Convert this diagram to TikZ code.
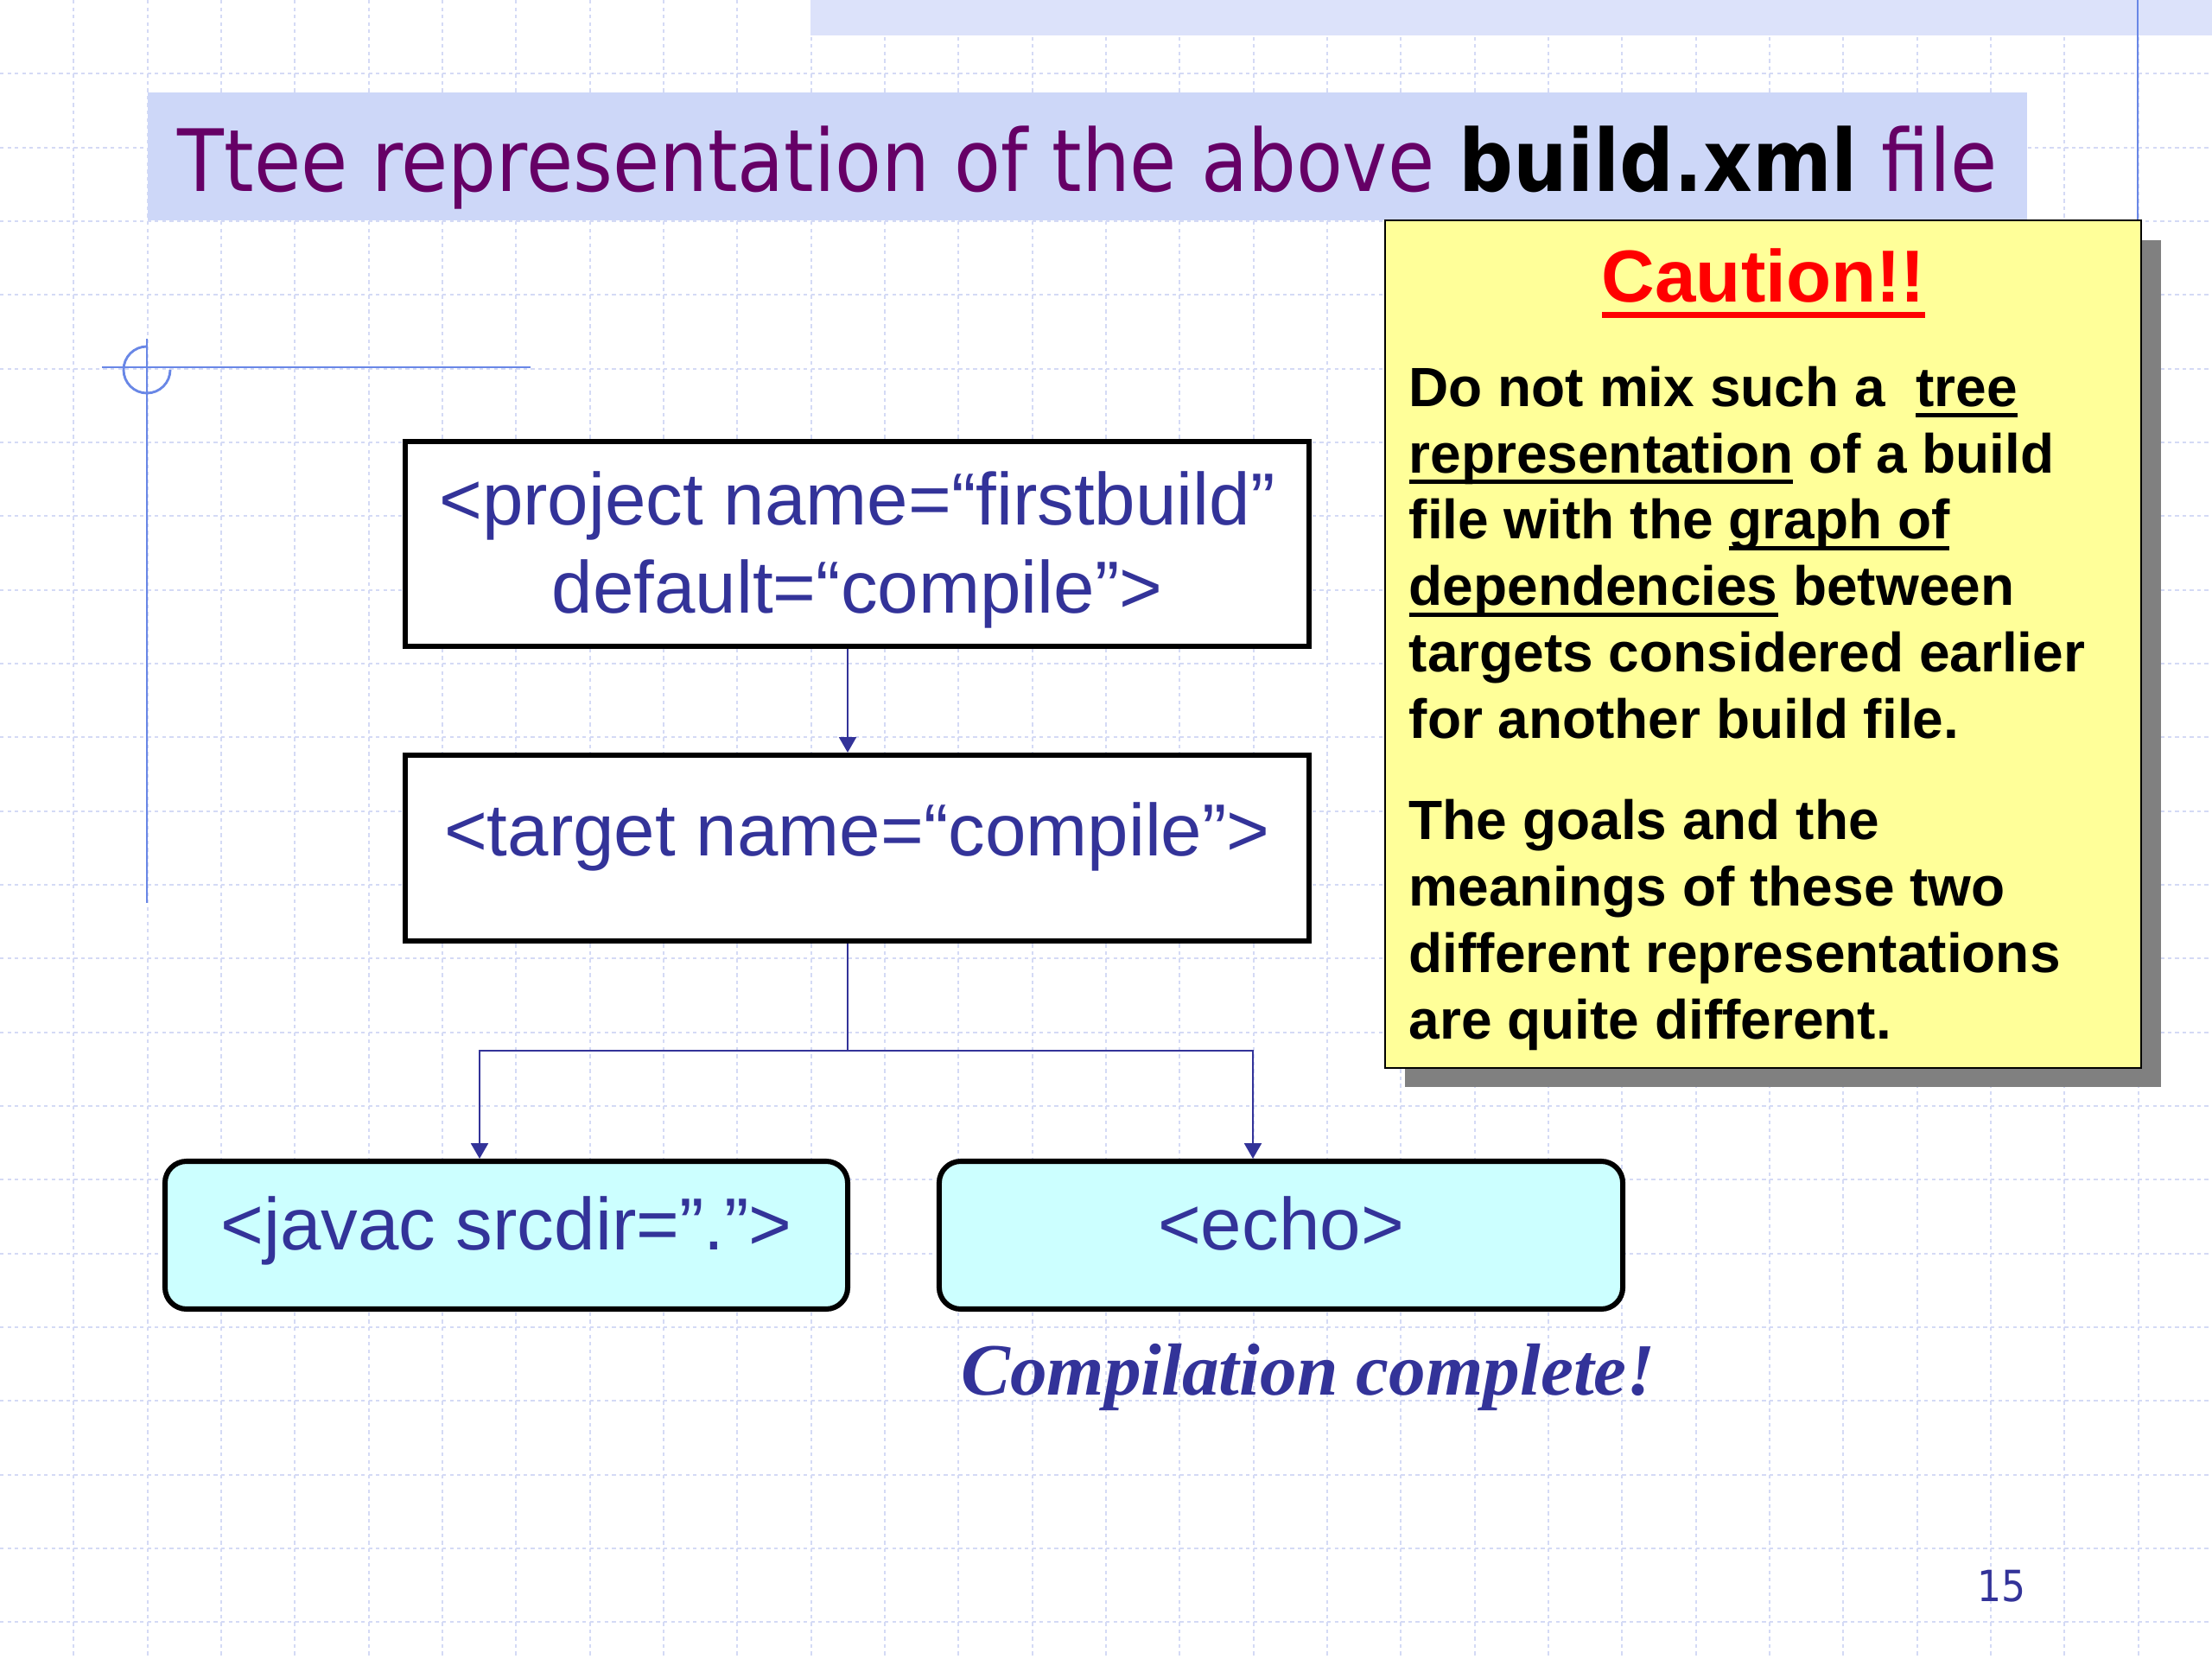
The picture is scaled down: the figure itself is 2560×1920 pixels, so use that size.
\documentclass[tikz,border=0pt]{standalone}
\usepackage{fontspec}
\setmainfont{Liberation Sans}
\newfontfamily\tahoma[FakeStretch=0.885]{DejaVu Sans}
\newfontfamily\serifbi{Liberation Serif}
\usetikzlibrary{arrows.meta}
\definecolor{xmlblue}{RGB}{51,51,153}
\definecolor{titlepurple}{RGB}{102,0,102}
\definecolor{bandblue}{RGB}{205,215,248}
\definecolor{gridlav}{RGB}{212,218,245}
\definecolor{decoblue}{RGB}{105,135,230}
\definecolor{cautionyellow}{RGB}{255,255,153}
\definecolor{cyanfill}{RGB}{204,255,255}
\definecolor{topband}{RGB}{220,226,250}
\definecolor{shadowgray}{RGB}{128,128,128}
\newcommand\myul[3]{\setbox0=\hbox{#3}\rlap{\rule[#1]{\wd0}{#2}}\box0\relax}
\newcommand\boxtext[2]{\raisebox{#1}[0pt][0pt]{\begin{tabular}[t]{@{}c@{}}#2\end{tabular}}}
\begin{document}
\begin{tikzpicture}[x=0.28125pt,y=-0.28125pt,
  gridline/.style={draw=gridlav,line width=0.6pt,dash pattern=on 1.2pt off 1.2pt},
  decoline/.style={draw=decoblue,line width=0.8pt},
  xmlbox/.style={draw=black,line width=1.7pt,fill=white,text=xmlblue,
    font=\fontsize{24}{28.8}\selectfont,inner sep=0pt},
  leafbox/.style={draw=black,line width=1.7pt,fill=cyanfill,rounded corners=7pt,
    text=xmlblue,font=\fontsize{24}{28.8}\selectfont,inner sep=0pt},
  conn/.style={draw=xmlblue,line width=0.6pt},
  tip/.style={-{Triangle[width=5.6pt,length=5pt]}}]
\useasboundingbox (0,0) rectangle (2560,1920);
\fill[white] (0,0) rectangle (2560,1920);
% background grid
\foreach \i in {1,...,29} \draw[gridline] (\i*85.333,0) -- (\i*85.333,1920);
\foreach \j in {1,...,22} \draw[gridline] (0,\j*85.333) -- (2560,\j*85.333);
% top band and decorations
\fill[topband] (938,0) rectangle (2560,41);
\draw[decoline] (2474,0) -- (2474,255);
\draw[decoline] (118,425) -- (614,425);
\draw[decoline] (170,392) -- (170,1045);
\draw[decoline] (170,401) arc[start angle=270,end angle=0,radius=27];
% title
\fill[bandblue] (171,107) rectangle (2346,255);
\node[anchor=base west,inner sep=0pt,text=titlepurple,font=\tahoma\fontsize{28}{34}\selectfont]
  (title) at (205,222) {Ttee representation of the above \textcolor{black}{\bfseries build.xml} file};
% tree boxes
\node[xmlbox,minimum width=294.2pt,minimum height=66.7pt] (b1) at (992,629.5)
  {\boxtext{6.3pt}{<project name=“firstbuild”\\default=“compile”>}};
\node[xmlbox,minimum width=294.2pt,minimum height=60.5pt] (b2) at (992,981.5)
  {\boxtext{-2.5pt}{<target name=“compile”>}};
\node[leafbox,minimum width=222.2pt,minimum height=48.1pt] (b3) at (586,1429.5)
  {\boxtext{-4.9pt}{<javac srcdir=”.”>}};
\node[leafbox,minimum width=222.5pt,minimum height=48.1pt] (b4) at (1482.5,1429.5)
  {\boxtext{-4.9pt}{<echo>}};
% connectors
\coordinate (cx) at (981,1216);
\coordinate (jl) at (555,1216);
\coordinate (jr) at (1450,1216);
\draw[conn,tip] (b1.south -| cx) -- (b2.north -| cx);
\draw[conn] (b2.south -| cx) -- (cx);
\draw[conn,tip] (cx) -- (jl) -- (b3.north -| jl);
\draw[conn,tip] (cx) -- (jr) -- (b4.north -| jr);
\node[anchor=base,inner sep=0pt,text=xmlblue,font=\serifbi\bfseries\itshape\fontsize{24}{28}\selectfont]
  (done) at (1514,1614) {Compilation complete!};
% caution box
\fill[shadowgray] (1626,278) rectangle (2501,1258);
\node[draw=black,line width=0.6pt,fill=cautionyellow,minimum width=246pt,minimum height=275.9pt,
  inner sep=0pt] (caution) at (2040.5,745.5) {};
\node[anchor=base,inner sep=0pt,text=red,font=\bfseries\fontsize{24}{28}\selectfont]
  (ctitle) at (2041,350) {\myul{-5.2pt}{2pt}{Caution!!}};
\node[anchor=base west,inner sep=0pt,align=left,font=\bfseries\fontsize{18}{21.6}\selectfont]
  (cbody) at (1630,1202) {Do not mix such a~ \myul{-3.7pt}{1.4pt}{tree}\\
  \myul{-3.7pt}{1.4pt}{representation} of a build\\
  file with the \myul{-3.7pt}{1.4pt}{graph of}\\
  \myul{-3.7pt}{1.4pt}{dependencies} between\\
  targets considered earlier\\
  for another build file.\\[11.4pt]
  The goals and the\\
  meanings of these two\\
  different representations\\
  are quite different.};
% page number
\node[anchor=base,inner sep=0pt,text=xmlblue,font=\tahoma\fontsize{14}{17}\selectfont]
  (page) at (2316,1853) {15};
\end{tikzpicture}
\end{document}
